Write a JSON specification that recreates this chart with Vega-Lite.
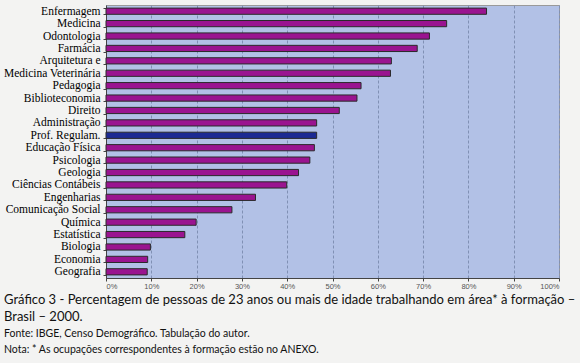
{
  "$schema": "https://vega.github.io/schema/vega-lite/v6.json",
  "width": 453,
  "height": 273,
  "autosize": {"type": "none"},
  "padding": {"left": 106, "top": 5, "right": 21, "bottom": 85},
  "background": "#f3f3f2",
  "data": {
    "values": [
      {"area": "Enfermagem", "pct": 84.0, "grupo": "a"},
      {"area": "Medicina", "pct": 75.2, "grupo": "a"},
      {"area": "Odontologia", "pct": 71.4, "grupo": "a"},
      {"area": "Farmácia", "pct": 68.7, "grupo": "a"},
      {"area": "Arquitetura e", "pct": 63.0, "grupo": "a"},
      {"area": "Medicina Veterinária", "pct": 62.8, "grupo": "a"},
      {"area": "Pedagogia", "pct": 56.3, "grupo": "a"},
      {"area": "Biblioteconomia", "pct": 55.4, "grupo": "a"},
      {"area": "Direito", "pct": 51.5, "grupo": "a"},
      {"area": "Administração", "pct": 46.5, "grupo": "a"},
      {"area": "Prof. Regulam.", "pct": 46.5, "grupo": "b"},
      {"area": "Educação Física", "pct": 46.0, "grupo": "a"},
      {"area": "Psicologia", "pct": 45.0, "grupo": "a"},
      {"area": "Geologia", "pct": 42.5, "grupo": "a"},
      {"area": "Ciências Contábeis", "pct": 39.9, "grupo": "a"},
      {"area": "Engenharias", "pct": 33.0, "grupo": "a"},
      {"area": "Comunicação Social", "pct": 27.8, "grupo": "a"},
      {"area": "Química", "pct": 19.9, "grupo": "a"},
      {"area": "Estatística", "pct": 17.4, "grupo": "a"},
      {"area": "Biologia", "pct": 9.8, "grupo": "a"},
      {"area": "Economia", "pct": 9.2, "grupo": "a"},
      {"area": "Geografia", "pct": 9.1, "grupo": "a"}
    ]
  },
  "mark": {"type": "bar", "stroke": "#2a2a2a", "strokeWidth": 1},
  "encoding": {
    "y": {
      "field": "area",
      "type": "nominal",
      "sort": null,
      "scale": {"paddingInner": 0.5, "paddingOuter": 0.25},
      "axis": {
        "title": null,
        "labelFont": "Liberation Serif",
        "labelFontSize": 11.5,
        "labelColor": "#000000",
        "labelPadding": 3,
        "tickBand": "extent",
        "tickSize": 3,
        "tickColor": "#444444",
        "domainColor": "#444444",
        "grid": false
      }
    },
    "x": {
      "field": "pct",
      "type": "quantitative",
      "scale": {"domain": [0, 100], "nice": false},
      "axis": {
        "title": null,
        "values": [0, 10, 20, 30, 40, 50, 60, 70, 80, 90, 100],
        "labelExpr": "datum.value + '%'",
        "labelFont": "Liberation Sans",
        "labelFontSize": 7.5,
        "labelColor": "#555555",
        "tickSize": 3,
        "tickColor": "#444444",
        "domainColor": "#444444",
        "grid": true,
        "gridDash": [3, 2],
        "gridColor": "#8090b4",
        "labelPadding": 1
      }
    },
    "color": {
      "field": "grupo",
      "type": "nominal",
      "scale": {"domain": ["a", "b"], "range": ["#9a1490", "#1c2a92"]},
      "legend": null
    }
  },
  "title": {
    "text": ["Gráfico 3 - Percentagem de pessoas de 23 anos ou mais de idade  trabalhando em área* à formação –", "Brasil – 2000."],
    "subtitle": ["Fonte: IBGE, Censo Demográfico. Tabulação do autor.", "Nota: * As ocupações correspondentes à formação estão no ANEXO."],
    "orient": "bottom",
    "anchor": "start",
    "frame": "group",
    "offset": 4,
    "dx": -102,
    "font": "Lato",
    "fontSize": 13,
    "fontWeight": "normal",
    "color": "#111111",
    "lineHeight": 17,
    "subtitleFont": "Lato",
    "subtitleFontSize": 10.5,
    "subtitleColor": "#111111",
    "subtitleLineHeight": 16,
    "subtitlePadding": 5
  },
  "config": {
    "view": {"fill": "#b2c1e6", "stroke": "#9a9a9a", "strokeWidth": 1}
  }
}
